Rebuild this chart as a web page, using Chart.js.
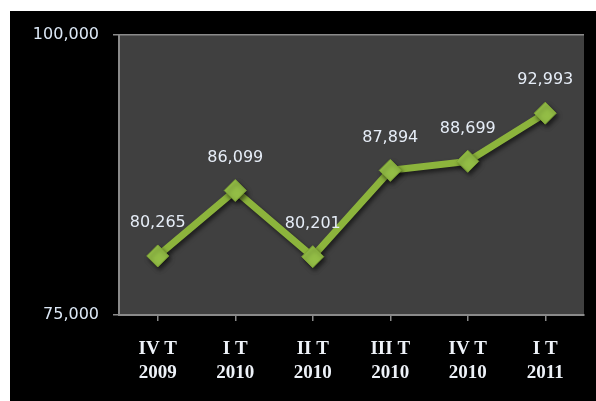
<!DOCTYPE html>
<html>
<head>
<meta charset="utf-8">
<script src="https://cdn.jsdelivr.net/npm/chart.js@4/dist/chart.umd.min.js"></script>
<style>
  html, body { margin: 0; padding: 0; background: #fff; }
  #box { position: absolute; left: 10px; top: 11px; width: 586px; height: 390px; background: #000; }
</style>
</head>
<body>
<div id="box"><canvas id="myChart" width="586" height="390"></canvas></div>
<script>
'use strict'

// data
const quarters = [['IV T', '2009'], ['I T', '2010'], ['II T', '2010'], ['III T', '2010'], ['IV T', '2010'], ['I T', '2011']];
const values = [80265, 86099, 80201, 87894, 88699, 92993];
const yTicks = [75000, 100000];

const green = '#8cb43c';
const axisGray = '#8a8a8a';

function fmt(n) {
  return n.toLocaleString('en-US');
}

// dark plot area
const plotBack = {
  id: 'plotBack',
  beforeDraw(chart) {
    const a = chart.chartArea;
    const ctx = chart.ctx;
    ctx.save();
    ctx.fillStyle = '#404040';
    ctx.fillRect(a.left, a.top, a.right - a.left, a.bottom - a.top);
    ctx.restore();
  }
};

// soft shadow under the line and markers
const shadow = {
  id: 'shadow',
  beforeDatasetDraw(chart) {
    const ctx = chart.ctx;
    ctx.save();
    ctx.shadowColor = 'rgba(0,0,0,0.55)';
    ctx.shadowOffsetX = 2;
    ctx.shadowOffsetY = 3;
    ctx.shadowBlur = 4;
  },
  afterDatasetDraw(chart) {
    chart.ctx.restore();
  }
};

// values above each point
const valueLabels = {
  id: 'valueLabels',
  afterDatasetsDraw(chart) {
    const ctx = chart.ctx;
    const pts = chart.getDatasetMeta(0).data;
    ctx.save();
    ctx.font = '16px "DejaVu Sans"';
    ctx.fillStyle = '#e6edf7';
    ctx.textAlign = 'center';
    ctx.textBaseline = 'middle';
    pts.forEach((p, i) => {
      ctx.fillText(fmt(values[i]), p.x, p.y - 33);
    });
    ctx.restore();
  }
};

let ctx = document.getElementById('myChart').getContext('2d');

new Chart(ctx, {
  type: 'line',
  data: {
    labels: quarters,
    datasets: [{
      data: values,
      borderColor: green,
      borderWidth: 7,
      tension: 0,
      pointStyle: 'rectRot',
      pointRadius: 11,
      pointHoverRadius: 11,
      pointBackgroundColor: '#93bd46',
      pointBorderColor: '#7ea534',
      pointBorderWidth: 1
    }]
  },
  options: {
    responsive: false,
    animation: false,
    events: [],
    layout: { padding: { top: 21, right: 4, left: 0, bottom: 0 } },
    plugins: {
      legend: { display: false },
      tooltip: { enabled: false }
    },
    scales: {
      x: {
        offset: true,
        afterFit(scale) { scale.height = 86; },
        grid: { drawOnChartArea: false, tickLength: 6, color: axisGray, lineWidth: 1.5 },
        border: { color: axisGray, width: 2 },
        ticks: {
          color: '#eef2f8',
          padding: 16,
          maxRotation: 0,
          font: { family: '"Liberation Serif"', size: 19, weight: 'bold', lineHeight: 1.25 }
        }
      },
      y: {
        min: 75000,
        max: 100000,
        afterFit(scale) { scale.width = 109; },
        afterBuildTicks(scale) { scale.ticks = yTicks.map(v => ({ value: v })); },
        grid: { color: axisGray, tickLength: 6, lineWidth: 1.5 },
        border: { color: axisGray, width: 2 },
        ticks: {
          color: '#dce8f6',
          padding: 14,
          font: { family: '"DejaVu Sans"', size: 16 },
          callback: v => fmt(v)
        }
      }
    }
  },
  plugins: [plotBack, shadow, valueLabels]
});
</script>
</body>
</html>
